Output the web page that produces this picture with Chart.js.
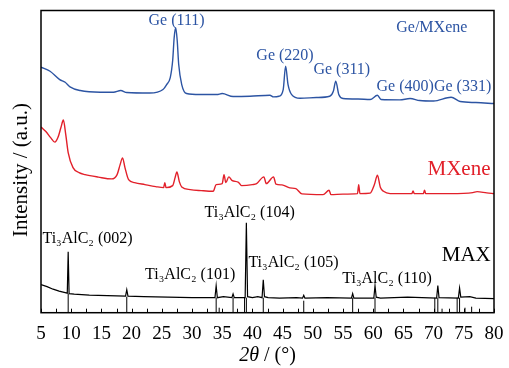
<!DOCTYPE html>
<html>
<head>
<meta charset="utf-8">
<script src="https://cdn.jsdelivr.net/npm/chart.js@4"></script>
<style>
  body { margin: 0; background: #fff; }
  #wrap { width: 509px; height: 368px; }
</style>
</head>
<body>
<div id="wrap"><canvas id="xrdChart"></canvas></div>
<script>
// 2theta (deg) / intensity (a.u.), curves already offset
var maxX = [5, 6, 7, 8, 9, 9.35, 9.5, 9.65, 10.5, 13, 16, 19, 19.2, 19.4, 22, 26, 30, 33.8, 34.0, 34.2, 35.2, 36.6, 36.8, 37.0, 38.8, 39.0, 39.2, 40.0, 40.9, 41.6, 41.8, 42.0, 42.6, 44.5, 47.3, 48.3, 48.5, 48.7, 52.4, 56.4, 56.6, 56.8, 60.1, 60.3, 60.5, 61.2, 65.7, 70.5, 70.7, 70.9, 74.1, 74.3, 74.5, 76.0, 77, 80];
var maxY = [28, 26, 23.5, 21.5, 20, 19.5, 61, 19, 18.5, 17.5, 17, 16.5, 23, 16.5, 16, 15.5, 15, 15, 27, 15, 16, 15, 18.7, 15, 15, 90, 16, 15, 16, 15, 33, 16, 15, 14.5, 15, 14.5, 17.3, 14.5, 15, 14.5, 19, 14.5, 14.5, 27, 15.5, 14.5, 15.5, 14.5, 27, 15, 14.5, 24.7, 15.5, 16, 14.5, 14];

var mxeneX = [5.0, 5.8, 6.6, 7.3, 7.8, 8.3, 8.7, 9.1, 9.5, 10.3, 11.3, 12.3, 14.5, 16.7, 17.6, 18.1, 18.5, 18.9, 19.5, 20.5, 22.2, 24.0, 25.3, 25.5, 25.7, 26.8, 27.2, 27.5, 27.9, 28.3, 29.7, 31.5, 33.5, 34.0, 35.0, 35.3, 35.6, 36.1, 36.6, 37.7, 38.2, 40.0, 40.7, 41.9, 42.3, 43.5, 43.9, 44.9, 46.2, 47.2, 48.2, 51.7, 52.7, 53.0, 55.0, 57.4, 57.6, 57.8, 59.5, 60.2, 60.7, 61.2, 61.7, 62.8, 66.4, 66.6, 66.8, 68.3, 68.5, 68.7, 72.8, 76.5, 77.2, 78.8, 80];
var mxeneY = [185.5, 181, 175, 170.5, 175, 185, 192.5, 178, 160, 145, 140, 138, 135.5, 133.7, 138, 148, 154.7, 145, 133, 130, 128, 126, 125, 130, 125, 127, 135, 140.7, 131, 125.7, 123, 122, 121.3, 128, 129, 138, 130, 135.7, 132.3, 130.3, 127, 128, 129, 135.7, 129, 135.7, 128.5, 127.7, 124.7, 124, 118.7, 118, 122.3, 118, 118.5, 119, 128, 119, 119.5, 128, 137.3, 125, 121.3, 119, 119, 121.7, 119, 119, 122.3, 119, 119, 120, 121, 119.7, 119];

var geX = [5.0, 6.5, 8.1, 9.0, 9.8, 11.5, 14.8, 17.0, 18.2, 19.2, 23.0, 25.2, 25.8, 26.4, 26.8, 27.05, 27.3, 27.55, 27.8, 28.3, 29.1, 31.3, 34.1, 35.0, 36.8, 39.6, 42.9, 43.5, 44.4, 45.1, 45.5, 45.9, 46.5, 47.9, 50.6, 52.8, 53.4, 53.8, 54.3, 55.0, 57.5, 59.5, 60.7, 61.3, 64.4, 66.1, 67.7, 70.0, 72.9, 74.4, 77.0, 80.0];
var geY = [245.3, 241.3, 233, 230.3, 225.7, 222, 220.3, 220.3, 222, 220, 219.5, 223, 228, 235, 252, 275, 284.7, 272, 248, 228, 219, 218, 218, 219, 216, 216.3, 217.3, 215.7, 216.3, 223, 246.3, 228, 218, 214.3, 215, 216.3, 221.3, 231.3, 218, 214, 213.5, 213, 217.3, 213, 212.7, 214, 212, 211.5, 215.3, 211, 210, 209];

// Ti3AlC2 reference lines
var stickX = [9.5, 19.2, 34.0, 34.5, 36.8, 38.7, 39.0, 41.8, 48.5, 56.6, 60.3, 70.2, 70.7, 71.4, 73.9, 74.3, 75.2, 76.3];
var stickY = [19, 16, 15, 5, 15, 15, 15, 15, 12, 15, 15, 15, 15, 4, 15, 15, 5, 6];

var xTickValues = [5, 10, 15, 20, 25, 30, 35, 40, 45, 50, 55, 60, 65, 70, 75, 80];

var labelText = ["Ge (111)", "Ge/MXene", "Ge (220)", "Ge (311)", "Ge (400)", "Ge (331)", "MXene", "MAX",
  "Ti\u2083AlC\u2082 (002)", "Ti\u2083AlC\u2082 (104)", "Ti\u2083AlC\u2082 (101)", "Ti\u2083AlC\u2082 (105)", "Ti\u2083AlC\u2082 (110)"];
var labelX = [27.45, 69.7, 45.4, 54.8, 65.3, 74.8, 74.2, 75.4, 12.7, 39.55, 29.7, 46.8, 62.3];
var labelY = [292, 284.7, 256.3, 243, 225.7, 225.7, 143, 57, 73.7, 99.7, 38, 49.7, 33.7];

var BLUE = "#2c54a3";
var RED = "#e2202a";
var SERIF = "'Liberation Serif', 'Times New Roman', serif";
var labelColor = [BLUE, BLUE, BLUE, BLUE, BLUE, BLUE, RED, "#000", "#000", "#000", "#000", "#000", "#000"];
var labelFont = ["16px", "16px", "16px", "16px", "16px", "16px", "21px", "21px", "16px", "16px", "16px", "16px", "16px"];

function toPoints(xs, ys) {
  return xs.map(function (v, i) { return { x: v, y: ys[i] }; });
}

var sticks = [];
stickX.forEach(function (v, i) {
  sticks.push({ x: v, y: 0 }, { x: v, y: stickY[i] }, { x: v, y: null });
});

const decor = {
  id: "decor",
  afterDatasetsDraw(chart) {
    const { ctx, chartArea: a, scales: { x, y } } = chart;
    ctx.save();
    // frame
    ctx.strokeStyle = "#000";
    ctx.lineWidth = 1.5;
    ctx.strokeRect(a.left, a.top, a.right - a.left, a.bottom - a.top);
    // inward ticks every 2.5 deg
    ctx.lineWidth = 1;
    ctx.beginPath();
    for (let v = 5; v <= 80; v += 2.5) {
      const px = Math.round(x.getPixelForValue(v)) + 0.5;
      ctx.moveTo(px, a.bottom);
      ctx.lineTo(px, a.bottom - 4);
    }
    ctx.stroke();
    // peak labels
    ctx.textAlign = "center";
    ctx.textBaseline = "middle";
    labelText.forEach(function (t, i) {
      ctx.fillStyle = labelColor[i];
      ctx.font = labelFont[i] + " " + SERIF;
      ctx.fillText(t, x.getPixelForValue(labelX[i]), y.getPixelForValue(labelY[i]));
    });
    // axis titles
    ctx.fillStyle = "#000";
    ctx.textAlign = "left";
    ctx.font = "italic 20px " + SERIF;
    const p1 = "2\u03b8", p2 = " / (\u00b0)";
    const w1 = ctx.measureText(p1).width;
    ctx.font = "20px " + SERIF;
    const w2 = ctx.measureText(p2).width;
    const cx = (a.left + a.right) / 2;
    let sx = cx - (w1 + w2) / 2;
    ctx.font = "italic 20px " + SERIF;
    ctx.fillText(p1, sx, 356);
    ctx.font = "20px " + SERIF;
    ctx.fillText(p2, sx + w1, 356);
    ctx.translate(21, 170);
    ctx.rotate(-Math.PI / 2);
    ctx.textAlign = "center";
    ctx.font = "21px " + SERIF;
    ctx.fillText("Intensity / (a.u.)", 0, 0);
    ctx.restore();
  }
};

var ctx = document.getElementById("xrdChart").getContext("2d");
var myChart = new Chart(ctx, {
  type: "line",
  data: {
    datasets: [
      { label: "Ge/MXene", data: toPoints(geX, geY), borderColor: BLUE, borderWidth: 1.4, cubicInterpolationMode: "monotone" },
      { label: "MXene", data: toPoints(mxeneX, mxeneY), borderColor: RED, borderWidth: 1.4, cubicInterpolationMode: "monotone" },
      { label: "MAX", data: toPoints(maxX, maxY), borderColor: "#000", borderWidth: 1.2 },
      { label: "Ti3AlC2 ref", data: sticks, borderColor: "#000", borderWidth: 1, spanGaps: false },
    ],
  },
  options: {
    responsive: true,
    maintainAspectRatio: false,
    devicePixelRatio: 1,
    animation: false,
    elements: {
      point: { radius: 0 },
      line: { tension: 0, fill: false },
    },
    layout: { padding: { top: 10.5, right: 15, left: 41, bottom: 0 } },
    plugins: {
      legend: { display: false },
      tooltip: { enabled: false },
    },
    scales: {
      x: {
        type: "linear",
        min: 5,
        max: 80,
        grid: { display: false },
        border: { display: false },
        afterBuildTicks: function (s) {
          s.ticks = xTickValues.map(function (v) { return { value: v }; });
        },
        afterFit: function (s) { s.height = 55.3; },
        ticks: {
          color: "#000",
          padding: 2,
          maxRotation: 0,
          autoSkip: false,
          font: { family: SERIF, size: 19 },
        },
      },
      y: {
        display: false,
        min: 0,
        max: 302,
      },
    },
  },
  plugins: [decor],
});
</script>
</body>
</html>
